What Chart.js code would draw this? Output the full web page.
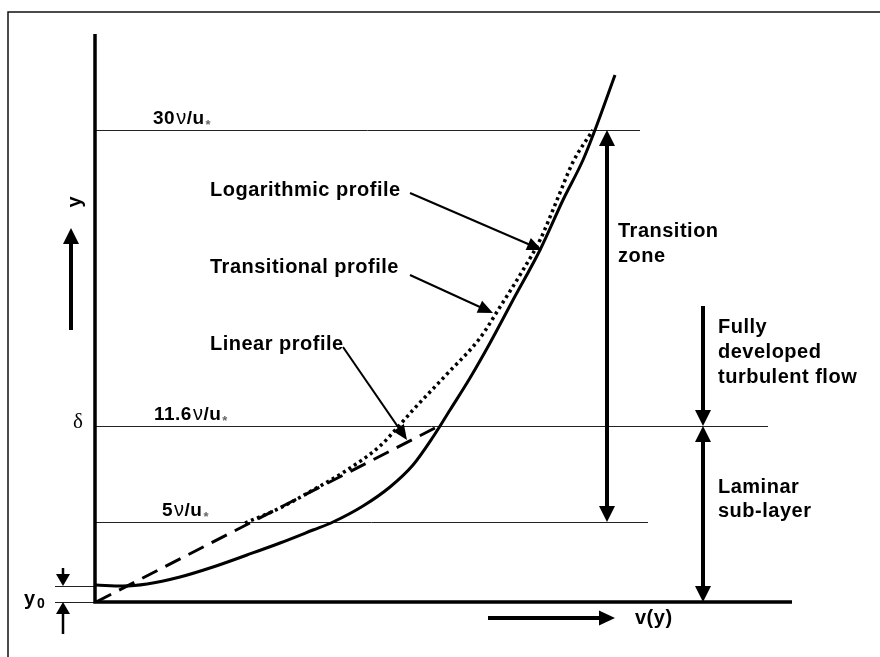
<!DOCTYPE html>
<html>
<head>
<meta charset="utf-8">
<script src="https://cdn.jsdelivr.net/npm/chart.js@4.4.1/dist/chart.umd.min.js"></script>
<style>
  body { margin: 0; background: #fff; }
  #wrap { width: 880px; height: 657px; }
</style>
</head>
<body>
<div id="wrap"><canvas id="profileChart"></canvas></div>
<script>
// velocity profile near the wall (schematic units, v along x, y up)
const actualX = [0.1, 2.8, 5.2, 8.5, 11.8, 15.2, 18.5, 21.8, 23.8, 26.8, 29.5, 31.8, 33.8, 35.5, 37.5, 39.5, 41.8, 44.5, 46.8, 48.8, 50.0, 52.0];
const actualY = [1.7, 1.6, 1.8, 2.5, 3.5, 4.7, 5.9, 7.2, 8.0, 9.6, 11.5, 13.7, 16.5, 19.2, 22.4, 25.9, 30.2, 35.2, 40.2, 44.2, 47.2, 52.7];
const logX = [15.0, 18.5, 21.8, 25.2, 28.5, 30.2, 31.8, 35.2, 38.5, 40.5, 42.8, 44.5, 46.2, 47.8, 49.8];
const logY = [7.9, 9.4, 11.2, 13.2, 15.6, 17.4, 19.2, 22.8, 26.4, 29.5, 33.2, 36.2, 40.2, 44.0, 47.2];
const linearX = [0.1, 34.0];
const linearY = [0.0, 17.4];

// reference heights
const levelNames = ['30', '11.6', '5'];
const levelY = [47.2, 17.6, 8.0];
const levelEnd = [54.5, 67.3, 55.3];
const levelTextX = [5.8, 5.9, 6.7];
const y0Level = 1.6;

const pts = (xs, ys) => xs.map((x, i) => ({ x: x, y: ys[i] }));

const FONT = '"Liberation Sans", Arial, sans-serif';

function arrowHead(ctx, x1, y1, x2, y2, len, half) {
    const a = Math.atan2(y2 - y1, x2 - x1);
    ctx.beginPath();
    ctx.moveTo(x2, y2);
    ctx.lineTo(x2 - len * Math.cos(a) + half * Math.sin(a), y2 - len * Math.sin(a) - half * Math.cos(a));
    ctx.lineTo(x2 - len * Math.cos(a) - half * Math.sin(a), y2 - len * Math.sin(a) + half * Math.cos(a));
    ctx.closePath();
    ctx.fill();
}

function arrow(ctx, x1, y1, x2, y2, width, len, half, both) {
    const a = Math.atan2(y2 - y1, x2 - x1);
    ctx.lineWidth = width;
    ctx.beginPath();
    ctx.moveTo(both ? x1 + len * 0.8 * Math.cos(a) : x1, both ? y1 + len * 0.8 * Math.sin(a) : y1);
    ctx.lineTo(x2 - len * 0.8 * Math.cos(a), y2 - len * 0.8 * Math.sin(a));
    ctx.stroke();
    arrowHead(ctx, x1, y1, x2, y2, len, half);
    if (both) arrowHead(ctx, x2, y2, x1, y1, len, half);
}

const diagram = {
    id: 'diagram',
    beforeDatasetsDraw(chart) {
        const ctx = chart.ctx;
        const sx = chart.scales.x, sy = chart.scales.y;
        const X = v => sx.getPixelForValue(v), Y = v => sy.getPixelForValue(v);
        ctx.save();
        // outer frame
        ctx.strokeStyle = '#111';
        ctx.lineWidth = 1.5;
        ctx.beginPath();
        ctx.moveTo(X(-8.7), 700);
        ctx.lineTo(X(-8.7), Y(59));
        ctx.lineTo(900, Y(59));
        ctx.stroke();
        // thin reference lines
        ctx.lineWidth = 1;
        ctx.strokeStyle = '#222';
        levelY.forEach((v, i) => {
            ctx.beginPath();
            ctx.moveTo(X(0), Math.round(Y(v)) + 0.5);
            ctx.lineTo(X(levelEnd[i]), Math.round(Y(v)) + 0.5);
            ctx.stroke();
        });
        [y0Level, 0].forEach(v => {
            ctx.beginPath();
            ctx.moveTo(X(-4), Math.round(Y(v)) + 0.5);
            ctx.lineTo(X(0), Math.round(Y(v)) + 0.5);
            ctx.stroke();
        });
        ctx.restore();
    },
    afterDatasetsDraw(chart) {
        const ctx = chart.ctx;
        const sx = chart.scales.x, sy = chart.scales.y;
        const X = v => sx.getPixelForValue(v), Y = v => sy.getPixelForValue(v);
        ctx.save();
        ctx.fillStyle = '#000';
        ctx.strokeStyle = '#000';
        ctx.lineCap = 'butt';

        // axes
        ctx.lineWidth = 3.5;
        ctx.beginPath();
        ctx.moveTo(X(0), Y(56.8));
        ctx.lineTo(X(0), Y(0));
        ctx.lineTo(X(69.7), Y(0));
        ctx.stroke();

        // level labels
        ctx.textBaseline = 'alphabetic';
        levelNames.forEach((n, i) => {
            let x = X(levelTextX[i]);
            const b = Y(levelY[i]) - 6;
            ctx.letterSpacing = '0.5px';
            ctx.font = 'bold 19px ' + FONT;
            ctx.fillText(n, x, b);
            x += ctx.measureText(n).width + 1;
            ctx.font = '20px ' + FONT;
            ctx.fillText('\u03BD', x, b);
            x += ctx.measureText('\u03BD').width;
            ctx.font = 'bold 19px ' + FONT;
            ctx.fillText('/u', x, b);
            x += ctx.measureText('/u').width;
            ctx.letterSpacing = '0px';
            ctx.fillStyle = '#666';
            ctx.font = 'bold 13px ' + FONT;
            ctx.fillText('*', x + 1, b + 5);
            ctx.fillStyle = '#000';
        });

        // delta
        ctx.font = '21px "Liberation Serif", serif';
        ctx.textAlign = 'center';
        ctx.fillText('\u03B4', X(-1.7), Y(17.6) + 2);

        // y label and arrow
        ctx.save();
        ctx.translate(X(-2.0), Y(40.0));
        ctx.rotate(-Math.PI / 2);
        ctx.font = 'bold 20px ' + FONT;
        ctx.textBaseline = 'middle';
        ctx.fillText('y', 0, 0);
        ctx.restore();
        arrow(ctx, X(-2.4), Y(27.2), X(-2.4), Y(37.4), 4, 16, 8, false);

        // y0 marker
        ctx.textAlign = 'left';
        ctx.font = 'bold 20px ' + FONT;
        ctx.fillText('y', X(-7.1), Y(-0.3));
        ctx.font = 'bold 14px ' + FONT;
        ctx.fillText('0', X(-5.8), Y(-0.6));
        arrow(ctx, X(-3.2), Y(3.4), X(-3.2), Y(y0Level), 2.5, 12, 7, false);
        arrow(ctx, X(-3.2), Y(-3.2), X(-3.2), Y(0), 2.5, 12, 7, false);

        // v(y) arrow
        arrow(ctx, X(39.3), Y(-1.6), X(52.0), Y(-1.6), 4, 16, 7.5, false);
        ctx.font = 'bold 20px ' + FONT;
        ctx.letterSpacing = '0.5px';
        ctx.fillText('v(y)', X(54.0), Y(-2.2));

        // zone arrows
        arrow(ctx, X(51.2), Y(levelY[2]), X(51.2), Y(levelY[0]), 4, 16, 8, true);
        arrow(ctx, X(60.8), Y(29.6), X(60.8), Y(levelY[1]), 4, 16, 8, false);
        arrow(ctx, X(60.8), Y(levelY[1]), X(60.8), Y(0), 4, 16, 8, true);

        const lines = [
            ['Transition', 52.3, 36.5], ['zone', 52.3, 34.0],
            ['Fully', 62.3, 26.9], ['developed', 62.3, 24.4], ['turbulent flow', 62.3, 21.9],
            ['Laminar', 62.3, 10.9], ['sub-layer', 62.3, 8.5],
            ['Logarithmic profile', 11.5, 40.6], ['Transitional profile', 11.5, 32.9], ['Linear profile', 11.5, 25.2]
        ];
        lines.forEach(l => ctx.fillText(l[0], X(l[1]), Y(l[2])));
        ctx.letterSpacing = '0px';

        // pointer arrows
        arrow(ctx, X(31.5), Y(40.9), X(44.7), Y(35.2), 2, 15, 6.5, false);
        arrow(ctx, X(31.5), Y(32.7), X(39.8), Y(28.9), 2, 15, 6.5, false);
        arrow(ctx, X(24.8), Y(25.5), X(31.2), Y(16.2), 2, 15, 6.5, false);
        ctx.restore();
    }
};

new Chart(document.getElementById('profileChart').getContext('2d'), {
    type: 'scatter',
    data: {
        datasets: [
            {
                label: 'Actual profile',
                data: pts(actualX, actualY),
                showLine: true,
                borderColor: '#000',
                borderWidth: 3,
                cubicInterpolationMode: 'monotone',
                pointRadius: 0
            },
            {
                label: 'Logarithmic profile',
                data: pts(logX, logY),
                showLine: true,
                borderColor: '#000',
                borderWidth: 3.5,
                borderDash: [3, 3.5],
                cubicInterpolationMode: 'monotone',
                pointRadius: 0
            },
            {
                label: 'Linear profile',
                data: pts(linearX, linearY),
                showLine: true,
                borderColor: '#000',
                borderWidth: 3,
                borderDash: [17, 9],
                pointRadius: 0
            }
        ]
    },
    options: {
        responsive: true,
        maintainAspectRatio: false,
        animation: false,
        layout: { padding: { left: 95, right: 85, top: 32, bottom: 55 } },
        plugins: {
            legend: { display: false },
            tooltip: { enabled: false }
        },
        scales: {
            x: { type: 'linear', min: 0, max: 70, display: false },
            y: { type: 'linear', min: 0, max: 57, display: false }
        }
    },
    plugins: [diagram]
});
</script>
</body>
</html>
